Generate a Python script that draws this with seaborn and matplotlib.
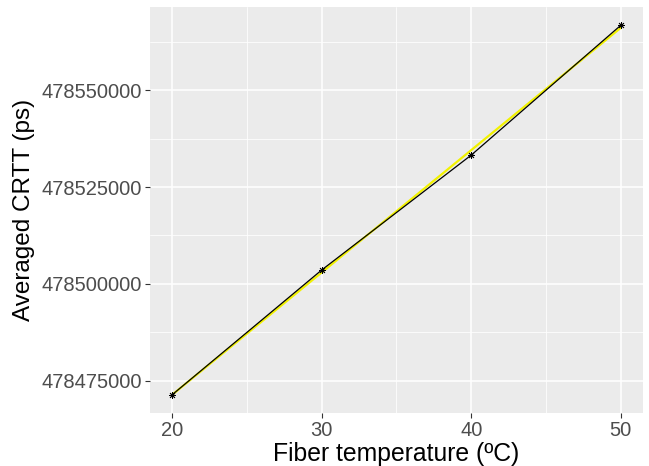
import numpy as np
import pandas as pd
import matplotlib
matplotlib.use("Agg")
import matplotlib.pyplot as plt
import seaborn as sns
from matplotlib.ticker import MultipleLocator, FormatStrFormatter

temps = [20, 30, 40, 50]
crtt = [478471400, 478503600, 478533250, 478566750]

df = pd.DataFrame({"temp": temps, "crtt": crtt})

sns.set_theme(style="darkgrid")
plt.rcParams["font.family"] = ["Liberation Sans", "DejaVu Sans"]

fig = plt.figure(figsize=(6.49, 4.66), dpi=100)
ax = fig.add_axes([150 / 649, 53 / 466, 493 / 649, 406 / 466])
ax.set_facecolor("#EBEBEB")

# regression line (lm fit) in yellow, then data line + points in black
sns.regplot(data=df, x="temp", y="crtt", ax=ax, scatter=False, ci=None,
            truncate=True, line_kws={"color": "#F2F200", "lw": 1.6})
sns.lineplot(data=df, x="temp", y="crtt", ax=ax, color="black", lw=0.9)
ax.plot(df.temp, df.crtt, ls="none", marker=(8, 2, 0), ms=5, mec="black", mew=0.6)

yr = max(crtt) - min(crtt)
ax.set_xlim(18.5, 51.5)
ax.set_ylim(min(crtt) - 0.05 * yr, max(crtt) + 0.05 * yr)

ax.xaxis.set_major_locator(MultipleLocator(10))
ax.xaxis.set_minor_locator(MultipleLocator(5))
ax.yaxis.set_major_locator(MultipleLocator(25000))
ax.yaxis.set_minor_locator(MultipleLocator(12500))
ax.yaxis.set_major_formatter(FormatStrFormatter("%d"))

ax.grid(which="major", color="white", lw=1.1)
ax.grid(which="minor", color="white", lw=0.55)
for s in ax.spines.values():
    s.set_visible(False)

ax.tick_params(which="major", length=3.5, width=0.8, color="#333333",
               labelsize=14.5, labelcolor="#4D4D4D", pad=2, left=True, bottom=True)
ax.tick_params(which="minor", length=0, left=False, bottom=False)

ax.set_xlabel("Fiber temperature (ºC)", fontsize=17.8, color="black", labelpad=2)
ax.set_ylabel("Averaged CRTT (ps)", fontsize=17.5, color="black", labelpad=5)

fig.savefig("out.png", dpi=100)
